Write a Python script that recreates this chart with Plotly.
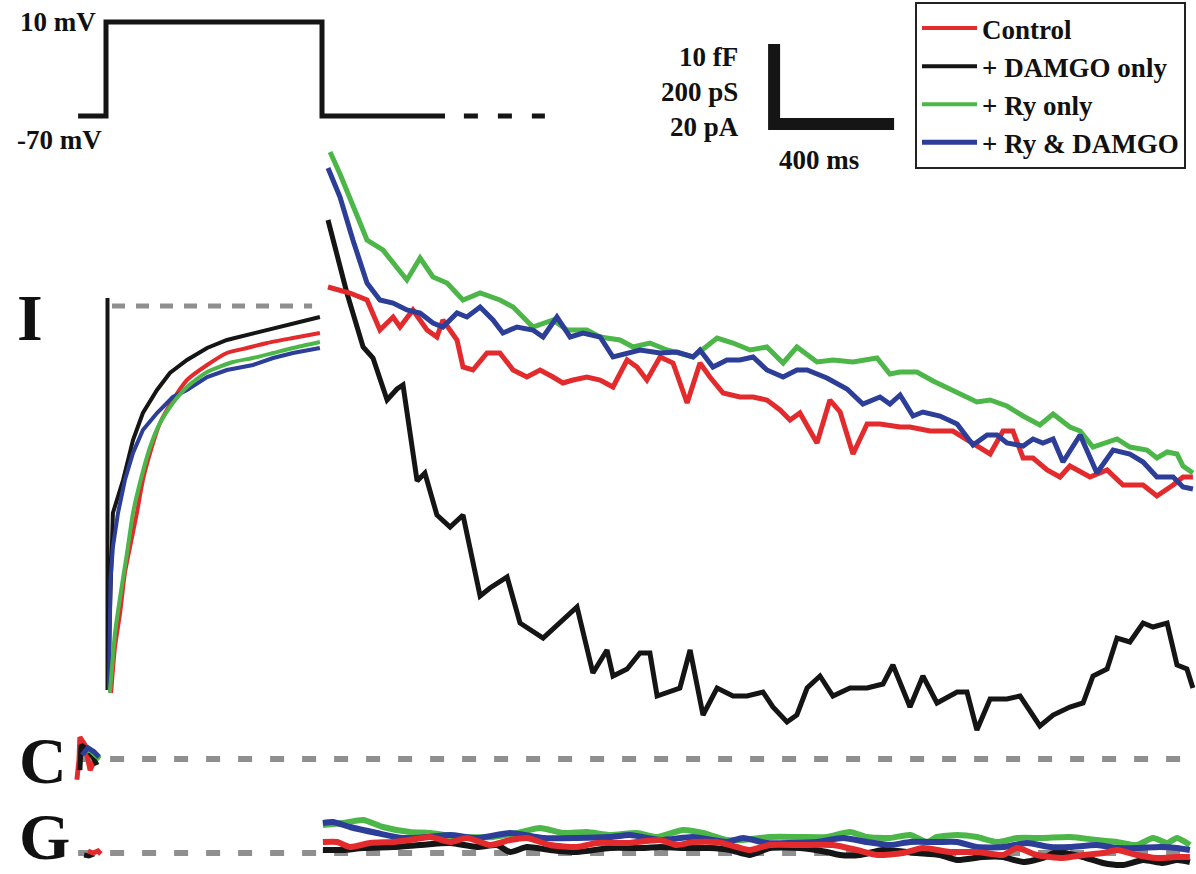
import plotly.graph_objects as go

# ---------------- colours ----------------
RED = "#e32a2c"
BLACK = "#151515"
GREEN = "#4cb748"
BLUE = "#2c3e98"
GRAY = "#8f8f8f"
FONT = "Liberation Serif, Times New Roman, serif"

# ---------------- voltage protocol (ms, mV) ----------------
volt_t = [-93, 0, 0, 720, 720, 1130]
volt_mv = [-70, -70, 10, 10, -70, -70]
volt_cont_t = [1193, 1463]
volt_cont_mv = [-70, -70]

# ---------------- current during the step (ms, pA) ----------------
step_red_t = [17, 30, 47, 63, 80, 103, 123, 147, 180, 223, 270, 337, 403, 470, 537, 623, 713]
step_red_i = [-96.75, -85.25, -76.75, -66.75, -60.25, -51.75, -43.5, -36.75, -29.25, -23.5,
              -18.5, -14.75, -11.75, -10.5, -9.25, -8, -6.75]
step_black_t = [5, 5, 23, 57, 90, 123, 170, 213, 270, 337, 403, 470, 537, 623, 713]
step_black_i = [2, -96, -51.75, -43.5, -33.5, -26.75, -21, -16.75, -13.5, -10.5, -8.5, -7.25,
                -6, -4.25, -2.75]
step_green_t = [13, 30, 47, 70, 90, 113, 147, 180, 223, 270, 337, 423, 490, 557, 623, 713]
step_green_i = [-96.75, -81.75, -72.75, -61.75, -51.75, -44.25, -35.25, -29.25, -24.25, -20.25,
                -16.5, -14, -13, -11.75, -10.5, -9]
step_blue_t = [10, 15, 23, 40, 63, 90, 123, 170, 223, 270, 337, 403, 490, 557, 623, 713]
step_blue_i = [-96, -68.5, -60.25, -51.75, -43.5, -36.75, -31, -26.75, -22.75, -21, -17.75, -16,
               -14.75, -13, -11.75, -10.5]

# ---------------- tail currents after the step (ms, pA) ----------------
tail_green_t = [747, 780, 847, 870, 923, 1003, 1047, 1090, 1137, 1190, 1247, 1313, 1357, 1423, 1490,
                1537, 1603, 1647, 1713, 1757, 1813, 1870, 1957, 2037, 2090, 2147, 2203, 2257, 2303,
                2370, 2423, 2490, 2570, 2613, 2647, 2703, 2757, 2837, 2903, 2947, 3003, 3057, 3113,
                3157, 3213, 3247, 3290, 3370, 3413, 3470, 3503, 3537, 3570, 3590, 3623]
tail_green_i = [38.5, 33, 20.75, 16.5, 14, 6.5, 12, 7.25, 5.75, 1.5, 3.25, 1.5, -0.25, -5.25, -3.5,
                -6, -6, -7.75, -8.5, -10.25, -9.25, -11, -12.75, -8, -9.25, -11, -10.25, -14.25,
                -10.25, -14, -13.5, -14, -13, -17, -16.5, -16.5, -18.75, -21.75, -24, -23.5, -25,
                -27.5, -29.75, -27, -30.25, -31.25, -35.25, -33.25, -35.25, -36, -38, -36.5, -37,
                -40, -41.75]
tail_blue_t = [740, 780, 823, 870, 913, 957, 1003, 1047, 1090, 1123, 1170, 1203, 1247, 1290, 1323,
               1370, 1423, 1457, 1503, 1547, 1590, 1647, 1690, 1737, 1780, 1847, 1903, 1957, 1980,
               2023, 2070, 2113, 2157, 2203, 2257, 2303, 2337, 2403, 2470, 2523, 2580, 2613, 2647,
               2690, 2723, 2780, 2837, 2890, 2937, 2970, 3003, 3057, 3090, 3123, 3157, 3190, 3247,
               3303, 3357, 3413, 3457, 3503, 3557, 3590, 3623]
tail_blue_i = [34.5, 27.25, 16.5, 5.75, 1.5, 0.75, -1, -1.75, -4.25, -5.25, -1.75, -2.75, -0.25,
               -3.5, -6.75, -5.25, -6, -7.75, -2.75, -7.75, -6.75, -7.75, -12.75, -11.75, -11,
               -11.75, -11.5, -12.75, -11, -15.25, -13.5, -13.5, -12.75, -16, -17.75, -16, -16, -18,
               -20.75, -24.5, -22.75, -24.5, -22.25, -27.5, -26.5, -27.5, -29.5, -34.75, -32.25,
               -32.25, -34.25, -35, -33.25, -34.25, -33.25, -39, -32.25, -41.75, -36, -37, -39,
               -42.75, -42.75, -45.25, -45.75]
tail_red_t = [740, 780, 813, 870, 913, 957, 980, 1023, 1070, 1103, 1123, 1170, 1190, 1223, 1270,
              1313, 1357, 1403, 1447, 1490, 1523, 1557, 1603, 1647, 1690, 1737, 1770, 1803, 1847,
              1890, 1937, 1980, 2013, 2057, 2113, 2157, 2203, 2247, 2280, 2313, 2370, 2413, 2447,
              2490, 2537, 2580, 2647, 2680, 2747, 2823, 2903, 2947, 2990, 3023, 3057, 3090, 3137,
              3180, 3213, 3280, 3337, 3390, 3457, 3503, 3557, 3590, 3623]
tail_red_i = [4.75, 4, 3.25, 1.5, -6, -2.75, -5.25, -1, -6, -7.75, -3.5, -8.5, -15.25, -16, -11.75,
              -11.75, -16, -17.75, -16, -17.75, -19.25, -18.5, -17.75, -18.5, -20.25, -13.5,
              -15.25, -18.5, -12.75, -14.25, -24.25, -14.25, -17.75, -21.75, -22.75, -22.75, -23.5,
              -26, -28.5, -26.75, -34.25, -23.5, -26.5, -37, -29.5, -29.5, -30.25, -30.25, -31.25,
              -31.25, -35, -37, -31.25, -31.25, -38, -38, -41, -42.75, -40, -42.75, -41, -44.75,
              -44.75, -47.5, -44.75, -42.75, -42.75]
tail_black_t = [740, 803, 857, 890, 937, 970, 990, 1013, 1037, 1063, 1103, 1147, 1190, 1247, 1280,
                1337, 1380, 1457, 1523, 1570, 1623, 1670, 1690, 1737, 1780, 1813, 1837, 1880, 1913,
                1947, 1990, 2037, 2090, 2137, 2190, 2223, 2270, 2303, 2337, 2380, 2423, 2480, 2537,
                2590, 2623, 2680, 2723, 2770, 2837, 2870, 2903, 2947, 3003, 3047, 3113, 3157, 3213,
                3257, 3290, 3337, 3370, 3413, 3457, 3490, 3537, 3570, 3603, 3623]
tail_black_i = [21.5, 3.25, -10.25, -13, -23.5, -20.75, -19.75, -31.25, -43.75, -41.75, -52.25,
                -55.25, -52.25, -72.5, -70.5, -67.75, -79.25, -83, -78.25, -75.25, -91.75, -86,
                -92.5, -90.75, -86.75, -86.75, -97.5, -96.5, -95.5, -86, -102.25, -95.5, -97.5,
                -97.5, -96.5, -100.25, -104, -102.25, -95.5, -92.5, -97.5, -95.5, -95.5, -94.5,
                -89.75, -100.25, -92.5, -99.25, -96.5, -96.5, -106, -98.25, -98.25, -97.5, -105,
                -102.25, -100.25, -99.25, -92.5, -90.75, -83, -84, -79.25, -80.25, -79.25, -89.75,
                -90.75, -95.5]

# ---------------- capacitance (ms, fF) ----------------
cap_red_t = [-97, -90, -87, -70, -53, -37]
cap_red = [-2.6, -0.1, 2.75, 1.75, -1.4, -0.1]
cap_black_t = [-87, -83, -60, -43, -30]
cap_black = [-1.4, 1.75, 1.1, 0.25, -0.75]
cap_green_t = [-73, -53, -33, -20]
cap_green = [0.9, 1.1, 0.4, 0.0]
cap_blue_t = [-80, -60, -40, -23]
cap_blue = [0.5, 1.4, 0.9, 0.25]

# ---------------- conductance (ms, pS) ----------------
g_pre_red_t = [-60, -43, -27, -17]
g_pre_red = [5, 0, 5, -2.5]
g_pre_black_t = [-73, -57, -40]
g_pre_black = [-5, -7.5, -2.5]

g_green_t = [723, 790, 857, 923, 1013, 1080, 1180, 1290, 1370, 1447, 1523, 1603, 1680, 1770, 1837,
             1923, 1990, 2070, 2123, 2213, 2313, 2403, 2480, 2537, 2613, 2680, 2737, 2770, 2837,
             2903, 2970, 3037, 3123, 3213, 3303, 3370, 3437, 3490, 3537, 3570, 3613]
g_green = [70, 75, 82.5, 65, 52.5, 50, 40, 40, 50, 62.5, 50, 52.5, 45, 50, 40, 57.5, 50, 32.5,
           32.5, 40, 40, 40, 52.5, 40, 37.5, 45, 27.5, 40, 45, 40, 27.5, 37.5, 37.5, 40, 32.5,
           27.5, 20, 37.5, 25, 37.5, 20]
g_blue_t = [723, 757, 813, 903, 990, 1070, 1147, 1237, 1347, 1457, 1570, 1680, 1747, 1847, 1957,
            2070, 2123, 2203, 2280, 2370, 2457, 2537, 2613, 2680, 2770, 2837, 2903, 2990, 3070,
            3147, 3213, 3303, 3370, 3437, 3513, 3570, 3613]
g_blue = [75, 77.5, 65, 50, 37.5, 40, 45, 37.5, 50, 37.5, 37.5, 40, 45, 32.5, 40, 27.5, 37.5, 25,
          25, 27.5, 37.5, 27.5, 20, 27.5, 27.5, 27.5, 15, 15, 25, 15, 15, 20, 12.5, 12.5, 15,
          12.5, 7.5]
g_red_t = [723, 770, 813, 880, 957, 1013, 1080, 1147, 1203, 1280, 1347, 1403, 1480, 1570, 1637,
           1737, 1847, 1903, 1957, 2037, 2103, 2147, 2213, 2313, 2423, 2503, 2570, 2657, 2723,
           2813, 2903, 2990, 3037, 3103, 3190, 3257, 3323, 3370, 3437, 3503, 3570, 3613]
g_red = [27.5, 27.5, 15, 25, 27.5, 32.5, 40, 27.5, 37.5, 20, 32.5, 37.5, 20, 15, 25, 25, 32.5, 20,
         27.5, 27.5, 15, 7.5, 20, 20, 20, 7.5, -5, 0, 12.5, 2.5, 2.5, -5, 12.5, -5, -12.5, -5, 0,
         7.5, -5, -12.5, -10, -10]
g_black_t = [723, 790, 857, 957, 1047, 1147, 1237, 1303, 1347, 1403, 1480, 1570, 1680, 1790, 1847,
             1923, 2013, 2080, 2147, 2213, 2313, 2403, 2447, 2513, 2590, 2703, 2780, 2837, 2923,
             2990, 3057, 3123, 3170, 3257, 3323, 3390, 3457, 3523, 3570, 3613]
g_black = [7.5, 7.5, 12.5, 15, 20, 25, 15, 20, 2.5, 15, 7.5, 2.5, 12.5, 12.5, 15, 12.5, 12.5, 7.5,
           -5, 12.5, 12.5, 2.5, -5, -5, 7.5, 0, -5, -17.5, -10, -10, -22.5, -12.5, 2.5, -10, -25,
           -30, -17.5, -25, -17.5, -22.5]

# ---------------- baselines and scale bar ----------------
i_base_t = [20, 687]
cg_base_t = [-93, 3633]
SCALE_T0 = 2227      # ms, corner of the scale bar
SCALE_I0 = 45.5      # pA, corner of the scale bar
SCALE_MS = 400
SCALE_PA = 20

LEGEND_NAMES = ["Control", "+ DAMGO only", "+ Ry only", "+ Ry & DAMGO"]

fig = go.Figure()


def line(x, y, color, width, axis="y", name=None, show=False, shape="linear", dash=None, group=None):
    fig.add_trace(go.Scatter(
        x=x, y=y, mode="lines", yaxis=axis, name=name, showlegend=show,
        legendgroup=group, hoverinfo="skip",
        line=dict(color=color, width=width, shape=shape, dash=dash,
                  smoothing=0.6 if shape == "spline" else None),
    ))


# step currents (legend entries in legend order)
line(step_red_t, step_red_i, RED, 4, name=LEGEND_NAMES[0], show=True, shape="spline", group="r")
line(step_black_t, step_black_i, BLACK, 4, name=LEGEND_NAMES[1], show=True, group="k")
line(step_blue_t, step_blue_i, BLUE, 4, group="b")
line(step_green_t, step_green_i, GREEN, 4, name=LEGEND_NAMES[2], show=True, shape="spline", group="g")
line(i_base_t, [0, 0], GRAY, 5, dash="13px,11px")

# tails
line(tail_black_t, tail_black_i, BLACK, 5, group="k")
line(tail_red_t, tail_red_i, RED, 5, group="r")
line(tail_green_t, tail_green_i, GREEN, 5, group="g")
line(tail_blue_t, tail_blue_i, BLUE, 5, name=LEGEND_NAMES[3], show=True, group="b")

# voltage protocol
line(volt_t, volt_mv, BLACK, 5, axis="y2")
line(volt_cont_t, volt_cont_mv, BLACK, 5, axis="y2", dash="14px,20px")

# capacitance
line(cg_base_t, [0, 0], GRAY, 6, axis="y3", dash="14px,18px")
line(cap_red_t, cap_red, RED, 5, axis="y3", group="r")
line(cap_black_t, cap_black, BLACK, 5, axis="y3", group="k")
line(cap_green_t, cap_green, GREEN, 5, axis="y3", group="g")
line(cap_blue_t, cap_blue, BLUE, 5, axis="y3", group="b")

# conductance
line(cg_base_t, [0, 0], GRAY, 6, axis="y4", dash="14px,18px")
line(g_pre_black_t, g_pre_black, BLACK, 5, axis="y4", group="k")
line(g_pre_red_t, g_pre_red, RED, 5, axis="y4", group="r")
line(g_black_t, g_black, BLACK, 6, axis="y4", shape="spline", group="k")
line(g_green_t, g_green, GREEN, 6, axis="y4", shape="spline", group="g")
line(g_blue_t, g_blue, BLUE, 6, axis="y4", shape="spline", group="b")
line(g_red_t, g_red, RED, 6, axis="y4", shape="spline", group="r")

# scale bar
line([SCALE_T0, SCALE_T0, SCALE_T0 + SCALE_MS], [SCALE_I0 + SCALE_PA, SCALE_I0, SCALE_I0], BLACK, 12)

txt = dict(family=FONT, size=27, color="#111111", weight="bold")
big = dict(family=FONT, size=66, color="#111111", weight="bold")
annotations = [
    dict(x=-28, y=10, xref="x", yref="y2", text="10 mV", xanchor="right", yanchor="middle",
         showarrow=False, font=txt),
    dict(x=-8, y=-70, xref="x", yref="y2", text="-70 mV", xanchor="right", yanchor="middle",
         yshift=-24, showarrow=False, font=txt),
    dict(x=SCALE_T0 - 110, y=SCALE_I0 + 8, xref="x", yref="y", text="10 fF<br>200 pS<br>20 pA",
         xanchor="right", yanchor="middle", align="right", showarrow=False, font=txt),
    dict(x=SCALE_T0 + 150, y=SCALE_I0 - 9, xref="x", yref="y", text="400 ms",
         xanchor="center", yanchor="middle", showarrow=False, font=txt),
    dict(x=30 / 1196, y=1 - 317 / 874, xref="paper", yref="paper", text="I",
         xanchor="center", yanchor="middle", showarrow=False, font=big),
    dict(x=43 / 1196, y=1 - 760 / 874, xref="paper", yref="paper", text="C",
         xanchor="center", yanchor="middle", showarrow=False, font=big),
    dict(x=44 / 1196, y=0, xref="paper", yref="paper", text="G",
         xanchor="center", yanchor="bottom", showarrow=False, font=big, borderpad=0),
]

hidden = dict(visible=False, showgrid=False, zeroline=False, fixedrange=True)
fig.update_layout(
    width=1196, height=874,
    margin=dict(l=0, r=0, t=0, b=0),
    paper_bgcolor="white", plot_bgcolor="white",
    xaxis=dict(range=[-353.33, 3633.33], **hidden),
    yaxis=dict(range=[-142, 76.5], domain=[0, 1], **hidden),
    yaxis2=dict(range=[-715.1, 28.72], overlaying="y", **hidden),
    yaxis3=dict(range=[-14.375, 94.875], overlaying="y", **hidden),
    yaxis4=dict(range=[-52.5, 2132.5], overlaying="y", **hidden),
    showlegend=True,
    legend=dict(x=915 / 1196, y=1 - 2 / 874, xanchor="left", yanchor="top",
                bgcolor="white", bordercolor="#222222", borderwidth=2,
                font=dict(family=FONT, size=27, color="#111111", weight="bold"),
                traceorder="normal", itemwidth=55, tracegroupgap=8),
    annotations=annotations,
)

fig.write_html("out.html", config={"displayModeBar": False},
               post_script="document.body.style.margin='0';document.body.style.overflow='hidden';")
